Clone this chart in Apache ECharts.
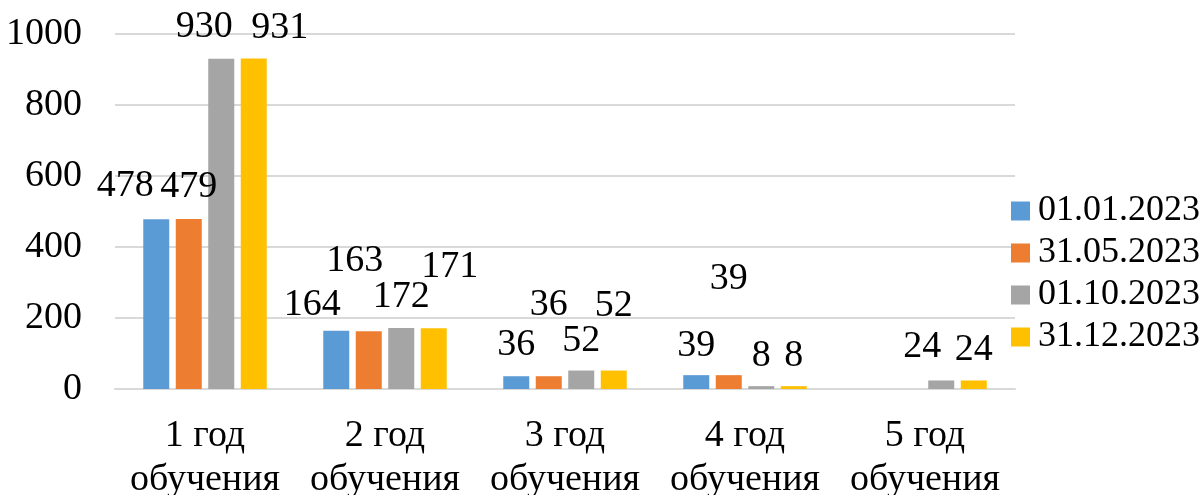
<!DOCTYPE html>
<html>
<head>
<meta charset="utf-8">
<script src="https://cdn.jsdelivr.net/npm/echarts@6/dist/echarts.min.js"></script>
<style>
  html, body { margin: 0; padding: 0; background: #fff; }
  #main { width: 1204px; height: 495px; }
</style>
</head>
<body>
<div id="main"></div>
<script>
// данные
const categories = ['1 год\nобучения', '2 год\nобучения', '3 год\nобучения', '4 год\nобучения', '5 год\nобучения'];
const seriesNames = ['01.01.2023', '31.05.2023', '01.10.2023', '31.12.2023'];
const v0101 = [478, 164, 36, 39, null];
const v3105 = [479, 163, 36, 39, null];
const v0110 = [930, 172, 52, 8, 24];
const v3112 = [931, 171, 52, 8, 24];
const yTicks = { min: 0, max: 1000, step: 200 };

// оформление
const colors = ['#5B9BD5', '#ED7D31', '#A5A5A5', '#FFC000'];
const font = 'Liberation Serif, Times New Roman, serif';
const fs = 38;
// сдвиг подписей (как в исходной диаграмме)
const labelNudge = [
    [[-31, -3], [-24, 4], [0, -1], [0, 1], [0, 0]],
    [[0, -2], [-14, -40], [0, -41], [0, -66], [0, 0]],
    [[-17, -2], [0, -1], [0, 0], [0, 0], [-19, -3]],
    [[26, 0], [16, -31], [0, -35], [0, 0], [0, 0]]
];

const allValues = [v0101, v3105, v0110, v3112];

const chart = echarts.init(document.getElementById('main'));

const series = allValues.map((vals, s) => ({
    name: seriesNames[s],
    type: 'bar',
    barWidth: 26,
    barGap: '25%',
    itemStyle: { color: colors[s] },
    label: {
        show: true,
        position: 'top',
        distance: 11,
        color: '#000',
        fontFamily: font,
        fontSize: fs
    },
    data: vals.map((v, i) => ({ value: v, label: { offset: labelNudge[s][i] } }))
}));

chart.setOption({
    animation: false,
    textStyle: { fontFamily: font },
    grid: { left: 115, right: 189, top: 34, bottom: 106, outerBoundsMode: 'none', containLabel: false },
    legend: {
        orient: 'vertical',
        left: 1006,
        top: 188,
        itemWidth: 19,
        itemHeight: 19,
        itemGap: 6,
        icon: 'rect',
        textStyle: { fontFamily: font, fontSize: 36, color: '#000', lineHeight: 36, padding: [0, 0, 0, 3] },
        data: seriesNames
    },
    xAxis: {
        type: 'category',
        data: categories,
        axisLine: { lineStyle: { color: '#D9D9D9', width: 2 } },
        axisTick: { show: false },
        axisLabel: { color: '#000', fontFamily: font, fontSize: fs, lineHeight: 44, margin: 25, interval: 0 }
    },
    yAxis: {
        type: 'value',
        min: yTicks.min,
        max: yTicks.max,
        interval: yTicks.step,
        axisLine: { show: false },
        axisTick: { show: false },
        axisLabel: { color: '#000', fontFamily: font, fontSize: fs, margin: 33, formatter: v => String(v) },
        splitLine: { lineStyle: { color: '#D9D9D9', width: 2 } }
    },
    series: series
});
</script>
</body>
</html>
